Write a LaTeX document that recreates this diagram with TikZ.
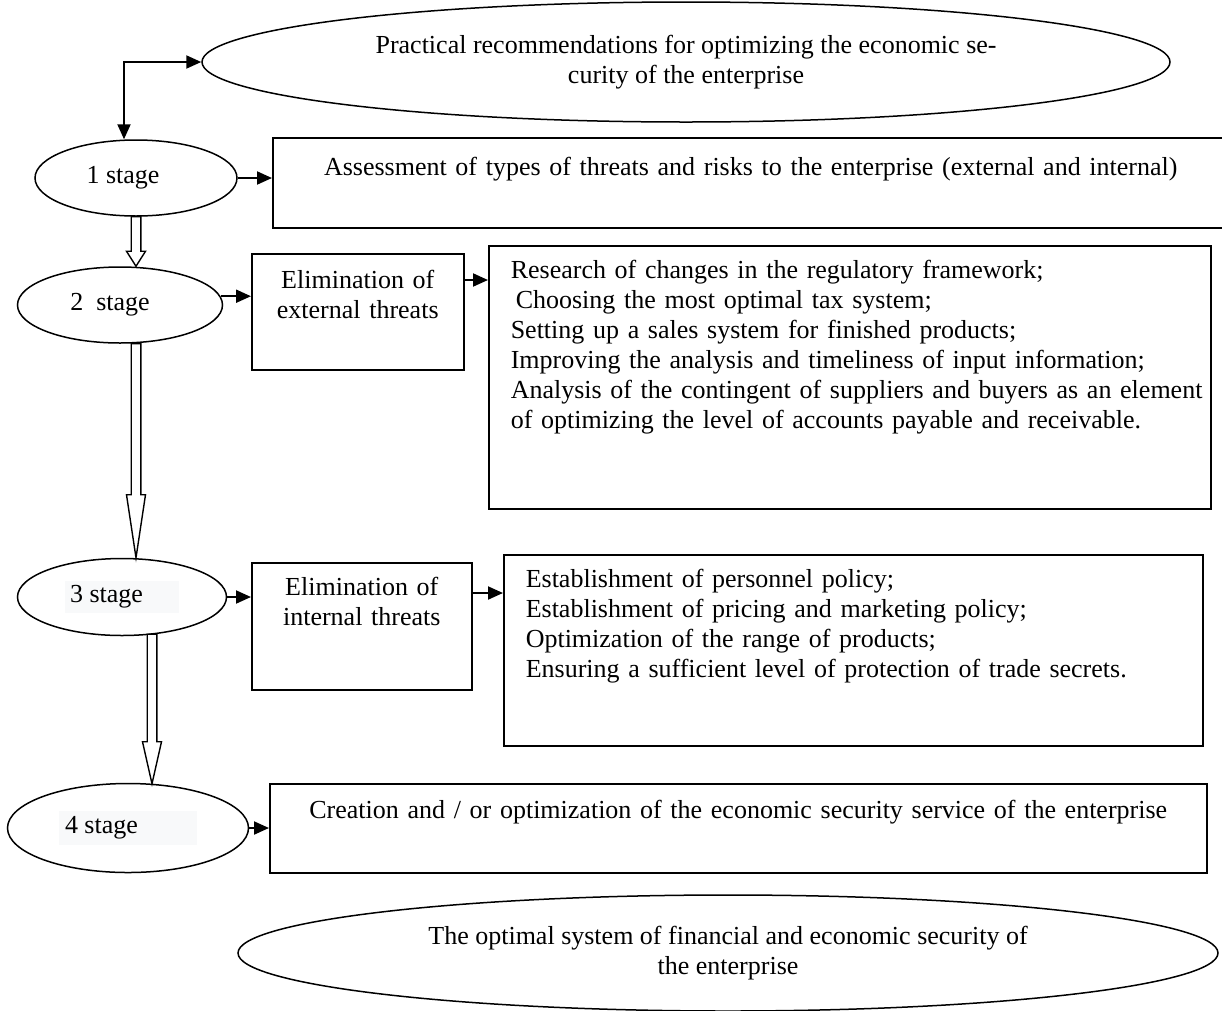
\documentclass[tikz,border=0pt]{standalone}
\usepackage{fontspec}
\setmainfont{Liberation Serif}
\usepackage{tikz}
\usetikzlibrary{arrows.meta,positioning,shapes.geometric,calc}
\definecolor{tagbg}{RGB}{248,249,250}

% grey tag behind a stage label
\newcommand{\stagetag}[3]{{\setlength{\fboxsep}{#2}\colorbox{tagbg}{\makebox[#1][l]{#3}}}}
% hollow block arrow: from, to, head length
\newcommand{\hollowarrow}[3]{%
  \draw[hollow] let \p1=(#1), \p2=(#2) in
    (\x1-4.8,\y1) -- (\x1-4.8,\y2+#3) -- (\x1-9.5,\y2+#3) -- (\x1,\y2)
    -- (\x1+9.5,\y2+#3) -- (\x1+4.8,\y2+#3) -- (\x1+4.8,\y1) -- cycle;}

\begin{document}
\begin{tikzpicture}[x=1pt,y=-1pt,
    every node/.style={font=\fontsize{26pt}{30pt}\selectfont},
    >={Triangle[length=15pt,width=13pt]},
    oval/.style={draw,ellipse,line width=1.5pt,inner sep=0pt},
    box/.style={draw,rectangle,line width=1.5pt,anchor=north west,inner ysep=0pt},
    link/.style={line width=2pt},
    hollow/.style={draw,fill=white,line width=1.4pt}]
    \useasboundingbox (0,0) rectangle (1222,1010);

    % Goal and result
    \node[oval,minimum width=968pt,minimum height=120pt,align=center] (goal) at (686,62) {Practical recommendations for optimizing the economic se-\\curity of the enterprise};
    \node[oval,minimum width=980pt,minimum height=116pt,align=center] (result) at (728,953) {The optimal system of financial and economic security of\\the enterprise};

    % Stages
    \node[oval,minimum width=202pt,minimum height=76pt] (s1) at (136,178) {1 stage\hspace*{26pt}};
    \node[oval,minimum width=205pt,minimum height=76pt] (s2) at (120,305) {2\ \ stage\hspace*{20pt}};
    \node[oval,minimum width=209pt,minimum height=77pt] (s3) at (122,597) {\stagetag{104pt}{5pt}{3 stage}};
    \node[oval,minimum width=241pt,minimum height=89pt] (s4) at (128,828) {\stagetag{126pt}{6pt}{4 stage}};

    % Measures
    \node[box,text width=956pt,inner xsep=0pt,text height=38pt,text depth=52pt,align=center] (assess) at (272,137) {Assessment of types of threats and risks to the enterprise (external and internal)};
    \node[box,text width=212pt,inner xsep=0pt,text height=35pt,text depth=81pt,align=center] (ext) at (251,253) {Elimination of\\external threats};
    \node[box,text width=678pt,inner xsep=22pt,text height=33pt,text depth=230pt,align=left] (res) at (488,245) {Research of changes in the regulatory framework;\\\hspace*{5pt}Choosing the most optimal tax system;\\Setting up a sales system for finished products;\\Improving the analysis and timeliness of input information;\\\mbox{Analysis of the contingent of suppliers and buyers as an element}\\of optimizing the level of accounts payable and receivable.};
    \node[box,text width=220pt,inner xsep=0pt,text height=33pt,text depth=94pt,align=center] (int) at (251,562) {Elimination of\\internal threats};
    \node[box,text width=655pt,inner xsep=22pt,text height=33pt,text depth=158pt,align=left] (est) at (503,554) {Establishment of personnel policy;\\Establishment of pricing and marketing policy;\\Optimization of the range of products;\\Ensuring a sufficient level of protection of trade secrets.};
    \node[box,text width=937pt,inner xsep=0pt,text height=35pt,text depth=54pt,align=center] (create) at (269,783) {Creation and / or optimization of the economic security service of the enterprise};

    % Arrows
    \coordinate (extout) at ($(ext.north east)+(0,27)$);
    \coordinate (intout) at ($(int.north east)+(0,31)$);
    \draw[link,<->] (goal.west) -| ($(s1.north)+(-12,0)$);
    \draw[link,->] (s1.east) -- (s1.east -| assess.west);
    \draw[link,->] (s2.5) -- (s2.5 -| ext.west);
    \draw[link,->] (extout) -- (extout -| res.west);
    \draw[link,->] (s3.east) -- (s3.east -| int.west);
    \draw[link,->] (intout) -- (intout -| est.west);
    \draw[link,->] (s4.east) -- (s4.east -| create.west);

    % Stage to stage
    \hollowarrow{s1.south}{s1.south |- s2.north}{15}
    \hollowarrow{s1.south |- s2.south}{s1.south |- s3.north}{63}
    \hollowarrow{$(s3.south)+(30,-2)$}{$(s4.north)+(24,1)$}{42}
\end{tikzpicture}
\end{document}
